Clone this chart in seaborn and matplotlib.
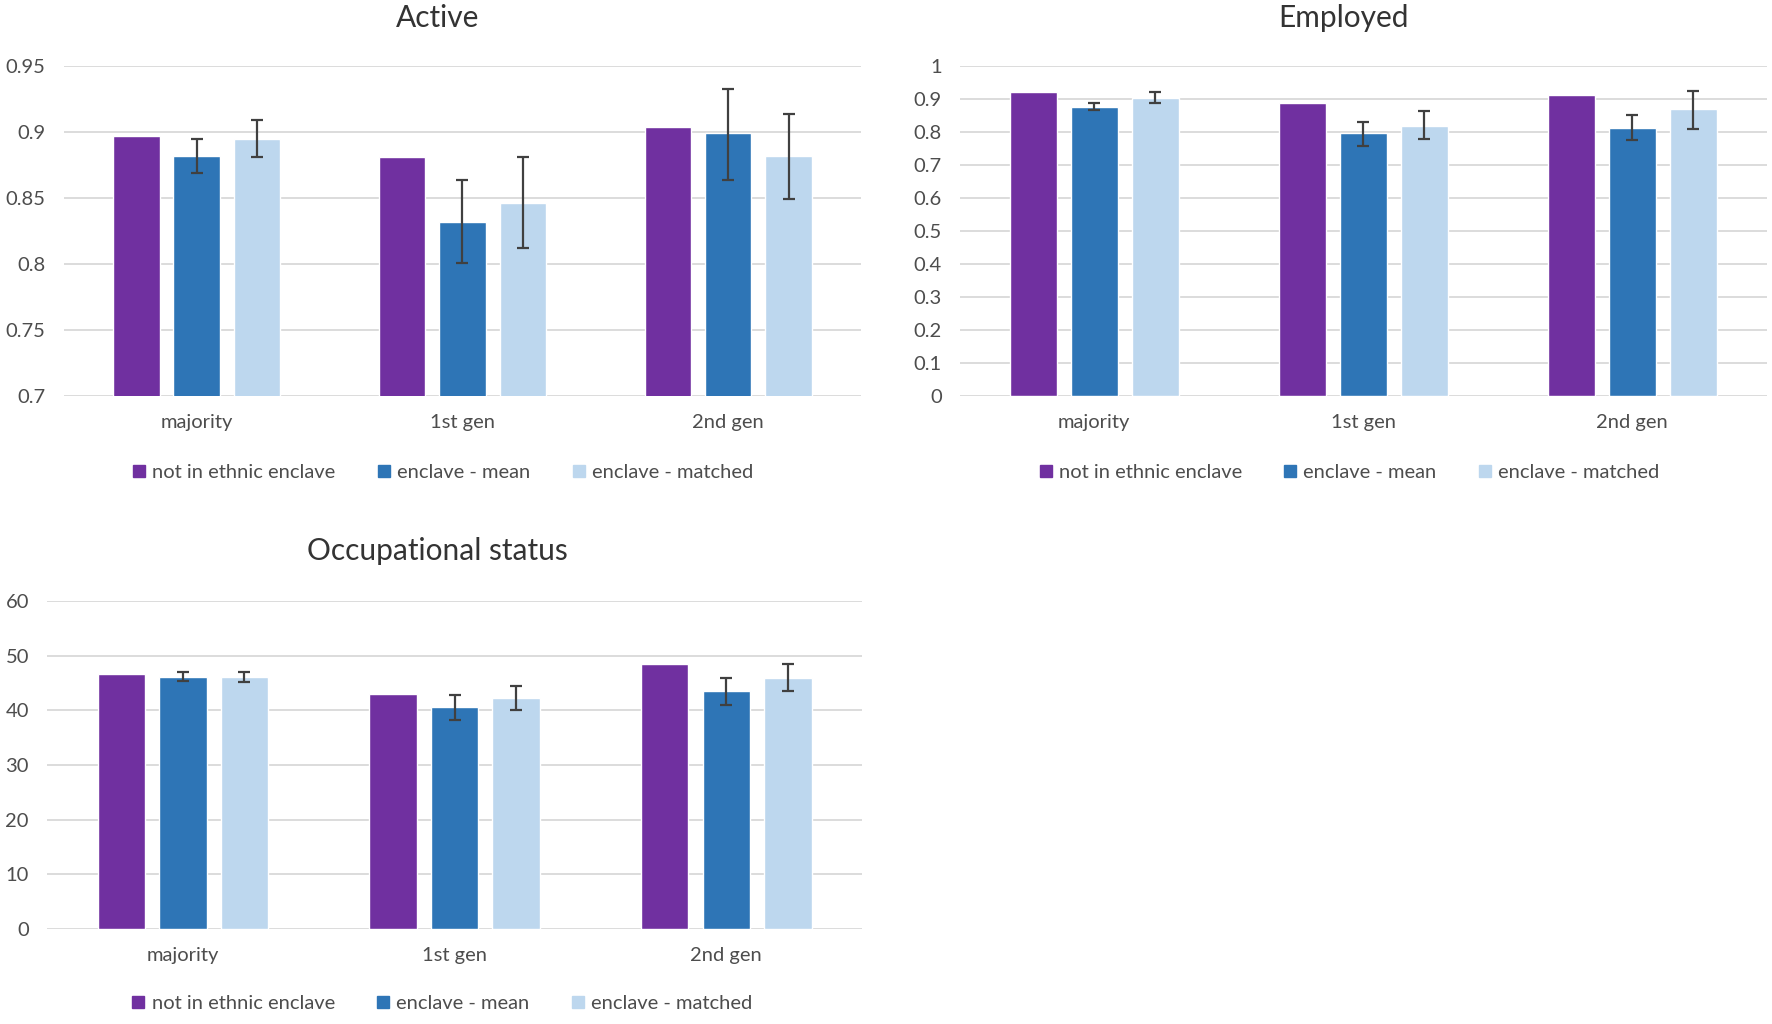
import numpy as np
import pandas as pd
import matplotlib
matplotlib.use("Agg")
import matplotlib.pyplot as plt
from matplotlib.lines import Line2D
from matplotlib.ticker import FuncFormatter
import seaborn as sns

# ── data ─────────────────────────────────────────────────────
CATEGORIES = ["majority", "1st gen", "2nd gen"]
SERIES = ["not in ethnic enclave", "enclave - mean", "enclave - matched"]
COLORS = ["#7030A0", "#2E75B6", "#BDD7EE"]

# Active
active_not = [0.897, 0.881, 0.904]
active_mean = [0.882, 0.832, 0.899]
active_matched = [0.895, 0.846, 0.882]
active_mean_lo = [0.869, 0.801, 0.864]
active_mean_hi = [0.895, 0.864, 0.933]
active_matched_lo = [0.881, 0.812, 0.849]
active_matched_hi = [0.909, 0.881, 0.914]

# Employed
employed_not = [0.922, 0.887, 0.913]
employed_mean = [0.876, 0.797, 0.813]
employed_matched = [0.904, 0.817, 0.869]
employed_mean_lo = [0.866, 0.759, 0.777]
employed_mean_hi = [0.888, 0.831, 0.852]
employed_matched_lo = [0.889, 0.778, 0.810]
employed_matched_hi = [0.920, 0.863, 0.925]

# Occupational status
occ_not = [46.7, 43.0, 48.5]
occ_mean = [46.1, 40.7, 43.5]
occ_matched = [46.1, 42.3, 45.9]
occ_mean_lo = [45.3, 38.2, 40.9]
occ_mean_hi = [47.1, 42.9, 46.0]
occ_matched_lo = [45.2, 40.0, 43.6]
occ_matched_hi = [47.1, 44.4, 48.4]

TEXT = "#4D4D4D"
GRID = "#D9D9D9"
ERR = "#404040"
FS = 14.5

sns.set_theme(style="white")
plt.rcParams["font.family"] = ["Lato", "DejaVu Sans"]


def make_frame(not_vals, mean_vals, matched_vals):
    rows = []
    for name, vals in zip(SERIES, [not_vals, mean_vals, matched_vals]):
        for cat, v in zip(CATEGORIES, vals):
            rows.append({"group": cat, "series": name, "value": v})
    return pd.DataFrame(rows)


def draw_panel(ax, df, errs, title, title_xy, ylim, yticks, legend_xy, fig):
    sns.barplot(
        data=df, x="group", y="value", hue="series",
        order=CATEGORIES, hue_order=SERIES, palette=COLORS,
        width=0.68, gap=0.23, errorbar=None, legend=False,
        saturation=1, ax=ax,
    )

    # bar centers, sorted left to right: cat0-s0, cat0-s1, cat0-s2, cat1-s0 ...
    bars = sorted([p for p in ax.patches if p.get_width() > 0],
                  key=lambda p: p.get_x())
    for s_idx, (lo, hi) in errs.items():
        for c_idx in range(len(CATEGORIES)):
            bar = bars[c_idx * len(SERIES) + s_idx]
            xc = bar.get_x() + bar.get_width() / 2
            h = bar.get_height()
            ax.errorbar(xc, h, yerr=[[h - lo[c_idx]], [hi[c_idx] - h]],
                        fmt="none", ecolor=ERR, elinewidth=1.6,
                        capsize=4.5, capthick=1.6, zorder=5)

    ax.set_ylim(*ylim)
    ax.set_yticks(yticks)
    ax.yaxis.set_major_formatter(FuncFormatter(lambda v, _: f"{v:g}"))
    ax.set_xlim(-0.5, len(CATEGORIES) - 0.5)
    ax.grid(axis="y", color=GRID, linewidth=1.3)
    ax.set_axisbelow(True)
    for sp in ax.spines.values():
        sp.set_visible(False)
    ax.tick_params(axis="y", length=0, pad=13, labelsize=FS, labelcolor=TEXT)
    ax.tick_params(axis="x", length=0, pad=13, labelsize=FS, labelcolor=TEXT)
    ax.set_xlabel("")
    ax.set_ylabel("")

    fig.text(title_xy[0], title_xy[1], title, ha="center", va="center",
             fontsize=21.5, color="#333333")

    handles = [Line2D([], [], marker="s", linestyle="none", markersize=9,
                      markerfacecolor=c, markeredgecolor=c) for c in COLORS]
    fig.legend(handles, SERIES, loc="center", bbox_to_anchor=legend_xy,
               ncol=3, frameon=False, fontsize=FS, labelcolor=TEXT,
               handlelength=0.8, handletextpad=0.25, columnspacing=2.0)


fig = plt.figure(figsize=(17.72, 10.24), dpi=100)

ax1 = fig.add_axes([0.036, 0.613, 0.450, 0.3225])
draw_panel(ax1, make_frame(active_not, active_mean, active_matched),
           {1: (active_mean_lo, active_mean_hi),
            2: (active_matched_lo, active_matched_hi)},
           "Active", (0.247, 0.982), (0.7, 0.95),
           [0.7, 0.75, 0.8, 0.85, 0.9, 0.95], (0.2495, 0.539), fig)

ax2 = fig.add_axes([0.5416, 0.613, 0.4554, 0.3225])
draw_panel(ax2, make_frame(employed_not, employed_mean, employed_matched),
           {1: (employed_mean_lo, employed_mean_hi),
            2: (employed_matched_lo, employed_matched_hi)},
           "Employed", (0.758, 0.982), (0, 1),
           [round(0.1 * i, 1) for i in range(11)], (0.761, 0.539), fig)

ax3 = fig.add_axes([0.0265, 0.0928, 0.460, 0.3202])
draw_panel(ax3, make_frame(occ_not, occ_mean, occ_matched),
           {1: (occ_mean_lo, occ_mean_hi),
            2: (occ_matched_lo, occ_matched_hi)},
           "Occupational status", (0.247, 0.462), (0, 60),
           [0, 10, 20, 30, 40, 50, 60], (0.249, 0.0205), fig)

fig.savefig("out.png", dpi=100)
